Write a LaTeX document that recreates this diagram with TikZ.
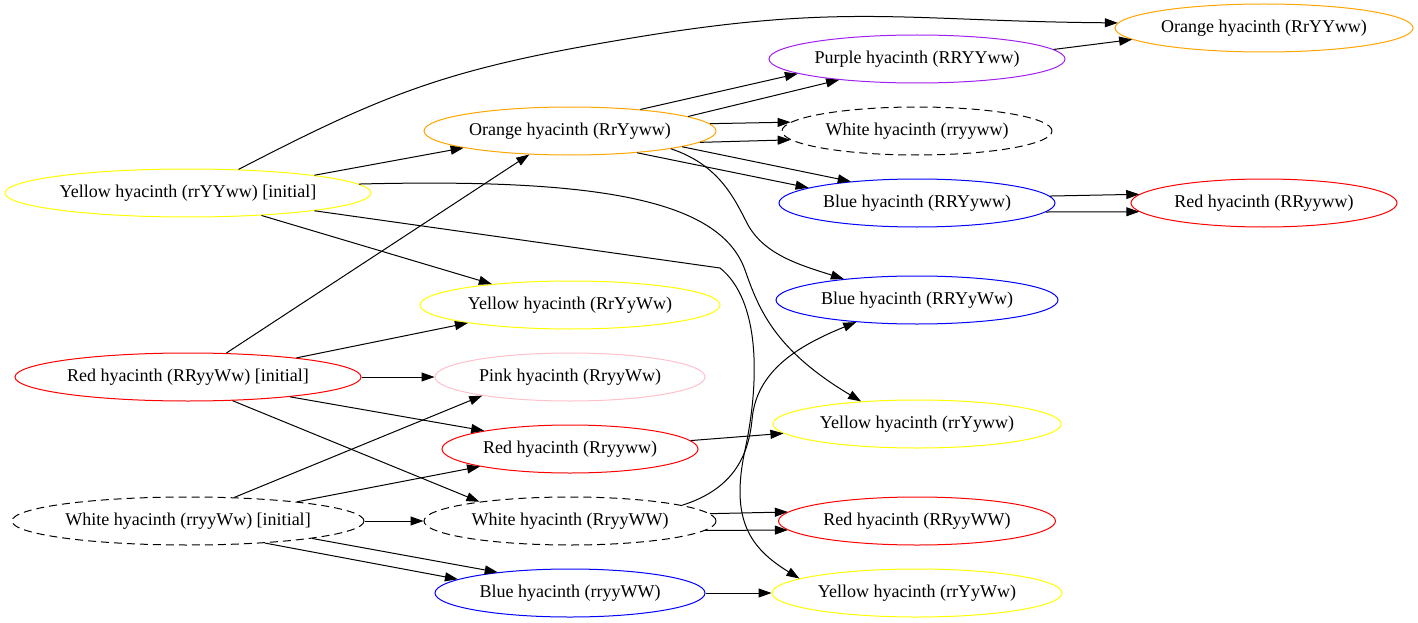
\documentclass[tikz,border=0pt]{standalone}
\usepackage{fontspec}
\setmainfont{Liberation Serif}
\usetikzlibrary{shapes.geometric,arrows.meta}
\definecolor{gvorange}{RGB}{255,165,0}
\definecolor{gvyellow}{RGB}{255,255,0}
\definecolor{gvpink}{RGB}{255,192,203}
\definecolor{gvpurple}{RGB}{160,32,240}
\definecolor{gvred}{RGB}{255,0,0}
\definecolor{gvblue}{RGB}{0,0,255}
\begin{document}
\begin{tikzpicture}[x=1pt,y=-1pt,
  hy/.style={ellipse, draw, line width=1pt, inner sep=0pt, minimum height=48pt, font=\fontsize{18}{21}\selectfont},
  dashedhy/.style={hy, draw=black, dash pattern=on 8pt off 5pt},
  edge/.style={line width=1pt, -{Triangle[length=13pt,width=9pt]}},
]
\useasboundingbox (0,0) rectangle (1418,623);
% column 0
\node[hy, draw=gvyellow, minimum width=366pt] (Y0) at (188,193) {Yellow hyacinth (rrYYww) [initial]};
\node[hy, draw=gvred, minimum width=346pt] (R0) at (188,377) {Red hyacinth (RRyyWw) [initial]};
\node[dashedhy, minimum width=352pt] (W0) at (188,521) {White hyacinth (rryyWw) [initial]};
% column 1
\node[hy, draw=gvorange, minimum width=292pt] (O1) at (570,131) {Orange hyacinth (RrYyww)};
\node[hy, draw=gvyellow, minimum width=300pt] (Y1) at (570,305) {Yellow hyacinth (RrYyWw)};
\node[hy, draw=gvpink, minimum width=270pt] (P1) at (570,377) {Pink hyacinth (RryyWw)};
\node[hy, draw=gvred, minimum width=256pt] (R1) at (570,449) {Red hyacinth (Rryyww)};
\node[dashedhy, minimum width=292pt] (W1) at (570,521) {White hyacinth (RryyWW)};
\node[hy, draw=gvblue, minimum width=270pt] (B1) at (570,593) {Blue hyacinth (rryyWW)};
% column 2
\node[hy, draw=gvpurple, minimum width=296pt] (Pu2) at (917,59) {Purple hyacinth (RRYYww)};
\node[dashedhy, minimum width=270pt] (W2) at (917,131) {White hyacinth (rryyww)};
\node[hy, draw=gvblue, minimum width=276pt] (B2) at (917,203) {Blue hyacinth (RRYyww)};
\node[hy, draw=gvblue, minimum width=282pt] (B2b) at (917,300) {Blue hyacinth (RRYyWw)};
\node[hy, draw=gvyellow, minimum width=288pt] (Y2) at (917,424) {Yellow hyacinth (rrYyww)};
\node[hy, draw=gvred, minimum width=277pt] (R2) at (917,521) {Red hyacinth (RRyyWW)};
\node[hy, draw=gvyellow, minimum width=290pt] (Y2b) at (917,593) {Yellow hyacinth (rrYyWw)};
% column 3
\node[hy, draw=gvorange, minimum width=298pt] (O3) at (1264,28) {Orange hyacinth (RrYYww)};
\node[hy, draw=gvred, minimum width=266pt] (R3) at (1264,203) {Red hyacinth (RRyyww)};
% edges from Y0
\draw[edge] (Y0.25.6) .. controls (386,93) and (448,69) .. (620,40) .. controls (842,2) and (899,21) .. (O3.178.5);
\draw[edge] (Y0.8.7) -- (O1.189.3);
\draw[edge] (Y0.343) -- (Y1.165.5);
\draw[edge] (Y0.3) .. controls (600,178) and (720,200) .. (745,270) .. controls (759,310) and (775,350) .. (Y2.158);
\draw[edge] (Y0.352.4) -- (720,268) .. controls (760,300) and (760,380) .. (745,450) .. controls (730,520) and (750,548) .. (Y2b.173.4);
% edges from R0
\draw[edge] (R0.32.4) -- (O1.210);
\draw[edge] (R0.10.8) -- (Y1.190.7);
\draw[edge] (R0.0) -- (P1.180);
\draw[edge] (R0.349.2) -- (R1.168.8);
\draw[edge] (R0.332.2) -- (W1.168.1);
% edges from W0
\draw[edge] (W0.27.8) -- (P1.192);
\draw[edge] (W0.10.6) -- (R1.191.2);
\draw[edge] (W0.0) -- (W1.180);
\draw[edge] (W0.344.8) -- (B1.173.2);
\draw[edge] (W0.352.9) -- (B1.164);
% edges from O1
\draw[edge] (O1.17.3) -- (Pu2.187.6);
\draw[edge] (O1.7.3) -- (Pu2.195.4);
\draw[edge] (O1.3.3) -- (W2.176.4);
\draw[edge] (O1.355.7) -- (W2.184.7);
\draw[edge] (O1.342.7) -- (B2.172.5);
\draw[edge] (O1.352.7) -- (B2.162.6);
\draw[edge] (O1.350.1) .. controls (720,165) and (735,200) .. (748,225) .. controls (765,255) and (800,265) .. (B2b.164.6);
% other edges
\draw[edge] (Pu2.4.9) -- (O3.185);
\draw[edge] (B2.3.5) -- (R3.176.4);
\draw[edge] (B2.356) -- (R3.184.2);
\draw[edge] (R1.4) -- (Y2.184.5);
\draw[edge] (W1.3.8) -- (R2.176);
\draw[edge] (W1.356.2) -- (R2.184);
\draw[edge] (W1.8.2) .. controls (730,490) and (748,460) .. (752,420) .. controls (756,370) and (800,345) .. (B2b.200.3);
\draw[edge] (B1.0) -- (Y2b.180);
\end{tikzpicture}
\end{document}
